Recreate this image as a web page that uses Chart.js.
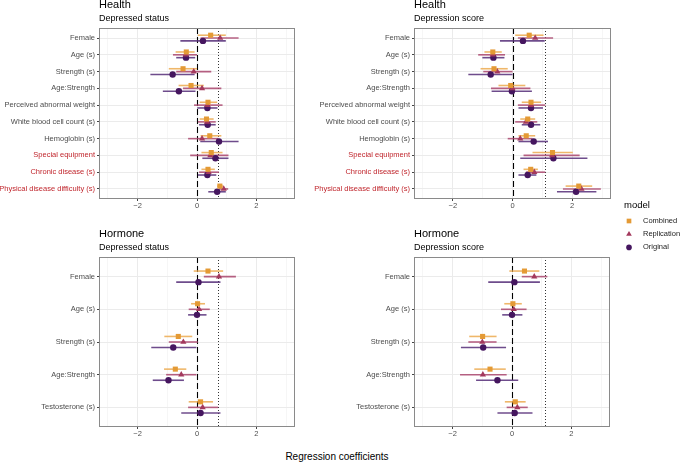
<!DOCTYPE html>
<html>
<head>
<meta charset="utf-8">
<script src="https://cdn.jsdelivr.net/npm/chart.js@4"></script>
<style>
  body { margin: 0; background: #fff; width: 680px; height: 464px; position: relative; overflow: hidden; font-family: "Liberation Sans", Arial, sans-serif; }
  canvas { position: absolute; }
  #xtitle { position: absolute; left: 0; width: 674px; top: 451px; text-align: center; font-size: 10px; color: #000; }
</style>
</head>
<body>
<canvas id="c1" width="300" height="215" style="left:0;top:0"></canvas>
<canvas id="c2" width="315" height="215" style="left:300px;top:0"></canvas>
<canvas id="c3" width="300" height="215" style="left:0;top:230px"></canvas>
<canvas id="c4" width="315" height="215" style="left:300px;top:230px"></canvas>
<canvas id="leg" width="65" height="65" style="left:615px;top:195px"></canvas>
<div id="xtitle">Regression coefficients</div>
<script>
// categories
const healthCats = ['Female', 'Age (s)', 'Strength (s)', 'Age:Strength', 'Perceived abnormal weight',
  'White blood cell count (s)', 'Hemoglobin (s)', 'Special equipment', 'Chronic disease (s)', 'Physical disease difficulty (s)'];
const hormoneCats = ['Female', 'Age (s)', 'Strength (s)', 'Age:Strength', 'Testosterone (s)'];
const redCats = ['Special equipment', 'Chronic disease (s)', 'Physical disease difficulty (s)'];
const models = ['Combined', 'Replication', 'Original'];
const xTicks = [-2, 0, 2];
const xGrid = [-3, -2, -1, 0, 1, 2, 3];

// [estimate, lower, upper] per category
// Health - Depressed status
const hsCombined = [[0.46,0.03,0.97],[-0.36,-0.72,-0.08],[-0.47,-0.95,0.0],[-0.20,-0.62,0.23],[0.37,0.09,0.68],[0.32,0.09,0.56],[0.43,0.12,0.82],[0.48,0.15,0.86],[0.37,0.15,0.60],[0.77,0.68,0.88]];
const hsReplication = [[0.78,0.12,1.40],[-0.38,-0.81,0.0],[-0.11,-0.70,0.48],[0.17,-0.47,0.82],[0.35,-0.10,0.86],[0.34,0.03,0.63],[0.17,-0.30,0.72],[0.45,-0.23,1.06],[0.39,0.07,0.74],[0.90,0.74,1.05]];
const hsOriginal = [[0.20,-0.56,0.97],[-0.37,-0.70,-0.06],[-0.82,-1.57,-0.08],[-0.61,-1.15,-0.05],[0.35,0.01,0.69],[0.36,0.07,0.63],[0.74,0.11,1.40],[0.62,0.18,1.06],[0.35,0.03,0.65],[0.68,0.38,0.97]];
// Health - Depression score
const hdCombined = [[0.56,0.09,1.04],[-0.66,-0.94,-0.36],[-0.62,-1.07,-0.16],[-0.06,-0.47,0.43],[0.62,0.31,0.96],[0.51,0.26,0.76],[0.46,0.20,0.76],[1.34,0.67,2.02],[0.61,0.37,0.85],[2.22,1.78,2.67]];
const hdReplication = [[0.76,0.18,1.36],[-0.66,-1.15,-0.25],[-0.51,-0.98,0.0],[0.0,-0.72,0.60],[0.62,0.18,1.10],[0.45,0.09,0.83],[0.26,-0.16,0.67],[1.33,0.37,2.25],[0.73,0.45,1.10],[2.31,1.69,2.96]];
const hdOriginal = [[0.35,-0.42,1.08],[-0.64,-1.01,-0.27],[-0.73,-1.48,0.0],[-0.02,-0.70,0.65],[0.62,0.20,1.02],[0.62,0.31,0.93],[0.71,0.20,1.19],[1.37,0.26,2.51],[0.51,0.20,0.80],[2.13,1.49,2.81]];
// Hormone - Depressed status
const osCombined = [[0.37,-0.11,0.88],[0.02,-0.20,0.27],[-0.63,-1.10,-0.16],[-0.73,-1.11,-0.36],[0.12,-0.28,0.54]];
const osReplication = [[0.74,0.23,1.31],[0.07,-0.28,0.43],[-0.46,-0.95,0.03],[-0.53,-1.04,-0.02],[0.19,-0.30,0.71]];
const osOriginal = [[0.05,-0.70,0.79],[0.0,-0.30,0.32],[-0.80,-1.54,-0.02],[-0.96,-1.49,-0.44],[0.12,-0.53,0.79]];
// Hormone - Depression score
const odCombined = [[0.42,-0.09,0.92],[0.03,-0.26,0.33],[-0.99,-1.44,-0.52],[-0.74,-1.27,-0.21],[0.11,-0.24,0.46]];
const odReplication = [[0.75,0.33,1.19],[0.06,-0.37,0.49],[-1.0,-1.47,-0.52],[-0.98,-1.75,-0.18],[0.18,-0.18,0.53]];
const odOriginal = [[0.08,-0.80,0.94],[0.0,-0.33,0.35],[-0.97,-1.72,-0.20],[-0.49,-1.21,0.21],[0.09,-0.49,0.69]];

// dotted reference line per outcome
const statusRef = 0.70;
const scoreRef = 1.10;

const colors = ['#e49a35', '#a3395d', '#45165f'];
const barColors = ['rgba(236,170,80,0.85)', 'rgba(170,70,110,0.85)', 'rgba(85,45,120,0.85)'];
const styles = ['rect', 'triangle', 'circle'];
const radii = [3.6, 3.6, 3.2];
const dodge = [-0.17, 0, 0.17];

Chart.defaults.font.family = '"Liberation Sans", Arial, sans-serif';
Chart.defaults.color = '#4d4d4d';

const panelPlugin = {
  id: 'panel',
  beforeDatasetsDraw(chart) {
    const {ctx, chartArea: a, scales: {x, y}} = chart;
    const o = chart.options.plugins.panel;
    ctx.save();
    ctx.beginPath();
    ctx.rect(a.left, a.top, a.right - a.left, a.bottom - a.top);
    ctx.clip();
    // reference lines
    ctx.strokeStyle = '#000';
    ctx.lineWidth = 1.1;
    ctx.setLineDash([6, 3]);
    let px = Math.round(x.getPixelForValue(0)) + 0.5;
    ctx.beginPath(); ctx.moveTo(px, a.top); ctx.lineTo(px, a.bottom); ctx.stroke();
    ctx.strokeStyle = '#333';
    ctx.lineWidth = 1;
    ctx.setLineDash([1, 2]);
    px = Math.round(x.getPixelForValue(o.ref)) + 0.5;
    ctx.beginPath(); ctx.moveTo(px, a.top); ctx.lineTo(px, a.bottom); ctx.stroke();
    ctx.setLineDash([]);
    // error bars
    chart.data.datasets.forEach((ds, k) => {
      ctx.strokeStyle = barColors[k];
      ctx.lineWidth = 1.6;
      ds.data.forEach(p => {
        const py = y.getPixelForValue(p.y);
        ctx.beginPath();
        ctx.moveTo(x.getPixelForValue(p.xMin), py);
        ctx.lineTo(x.getPixelForValue(p.xMax), py);
        ctx.stroke();
      });
    });
    ctx.restore();
  },
  afterDraw(chart) {
    const {ctx, chartArea: a} = chart;
    const o = chart.options.plugins.panel;
    ctx.save();
    ctx.strokeStyle = '#8a8a8a';
    ctx.lineWidth = 1;
    ctx.strokeRect(a.left + 0.5, a.top + 0.5, a.right - a.left - 1, a.bottom - a.top - 1);
    ctx.fillStyle = '#000';
    ctx.textAlign = 'left';
    ctx.textBaseline = 'middle';
    ctx.font = '11px "Liberation Sans", Arial, sans-serif';
    ctx.fillText(o.title, a.left, a.top - 23);
    ctx.font = '9px "Liberation Sans", Arial, sans-serif';
    ctx.fillText(o.subtitle, a.left, a.top - 9.5);
    ctx.restore();
  }
};

function makePanel(id, cats, series, title, subtitle, ref, yWidth, padRight, padTop, xHeight) {
  const datasets = series.map((rows, k) => ({
    label: models[k],
    data: rows.map((r, i) => ({x: r[0], y: i + dodge[k], xMin: r[1], xMax: r[2]})),
    pointStyle: styles[k],
    pointRadius: radii[k],
    backgroundColor: colors[k],
    borderColor: colors[k],
    borderWidth: 0
  }));
  return new Chart(document.getElementById(id), {
    type: 'scatter',
    data: {datasets},
    plugins: [panelPlugin],
    options: {
      responsive: false,
      animation: false,
      layout: {padding: {top: padTop, right: padRight, left: 0, bottom: 0}},
      plugins: {
        legend: {display: false},
        tooltip: {enabled: false},
        panel: {title, subtitle, ref}
      },
      scales: {
        x: {
          type: 'linear', min: -3.3, max: 3.3,
          afterBuildTicks: s => { s.ticks = xGrid.map(v => ({value: v})); },
          afterFit: s => { s.height = xHeight; },
          ticks: {
            autoSkip: false, maxRotation: 0, padding: 0,
            font: {size: 7.5}, color: '#4d4d4d',
            callback: v => xTicks.includes(v) ? String(v).replace('-', '\u2212') : ''
          },
          grid: {
            lineWidth: 1, tickLength: 2,
            color: c => (c.tick && xTicks.includes(c.tick.value)) ? '#ebebeb' : '#f6f6f6',
            tickColor: c => (c.tick && xTicks.includes(c.tick.value)) ? '#444' : 'rgba(0,0,0,0)'
          },
          border: {display: false}
        },
        y: {
          type: 'linear', reverse: true, min: -0.6, max: cats.length - 0.4,
          afterBuildTicks: s => { s.ticks = cats.map((c, i) => ({value: i})); },
          afterFit: s => { s.width = yWidth; },
          ticks: {
            autoSkip: false, padding: 2,
            font: {size: 7.5},
            color: c => (c.tick && redCats.includes(cats[c.tick.value])) ? '#c0262d' : '#4d4d4d',
            callback: v => cats[v]
          },
          grid: {lineWidth: 1, tickLength: 2, color: '#ebebeb', tickColor: '#444'},
          border: {display: false}
        }
      }
    }
  });
}

makePanel('c1', healthCats, [hsCombined, hsReplication, hsOriginal], 'Health', 'Depressed status', statusRef, 99, 5, 28, 16);
makePanel('c2', healthCats, [hdCombined, hdReplication, hdOriginal], 'Health', 'Depression score', scoreRef, 114, 4, 28, 16);
makePanel('c3', hormoneCats, [osCombined, osReplication, osOriginal], 'Hormone', 'Depressed status', statusRef, 99, 5, 27, 18);
makePanel('c4', hormoneCats, [odCombined, odReplication, odOriginal], 'Hormone', 'Depression score', scoreRef, 114, 5, 27, 18);

// legend, drawn with the library's point helper
const legendPlugin = {
  id: 'modelLegend',
  afterDraw(chart) {
    const ctx = chart.ctx;
    ctx.save();
    ctx.textAlign = 'left';
    ctx.textBaseline = 'middle';
    ctx.fillStyle = '#000';
    ctx.font = '9.5px "Liberation Sans", Arial, sans-serif';
    ctx.fillText('model', 9, 10);
    ctx.font = '7.5px "Liberation Sans", Arial, sans-serif';
    chart.data.datasets.forEach((ds, k) => {
      const cy = 26 + k * 13.2;
      ctx.fillStyle = colors[k];
      ctx.strokeStyle = colors[k];
      Chart.helpers.drawPoint(ctx, {pointStyle: styles[k], radius: k === 2 ? 2.8 : 3.3, borderWidth: 0}, 14, cy);
      ctx.fillStyle = '#222';
      ctx.fillText(ds.label, 28, cy);
    });
    ctx.restore();
  }
};

new Chart(document.getElementById('leg'), {
  type: 'scatter',
  data: {
    datasets: models.map((m, k) => ({
      label: m, data: [], pointStyle: styles[k],
      backgroundColor: colors[k], borderColor: colors[k], borderWidth: 0
    }))
  },
  plugins: [legendPlugin],
  options: {
    responsive: false,
    animation: false,
    scales: {x: {display: false}, y: {display: false}},
    plugins: {tooltip: {enabled: false}, legend: {display: false}}
  }
});
</script>
</body>
</html>
